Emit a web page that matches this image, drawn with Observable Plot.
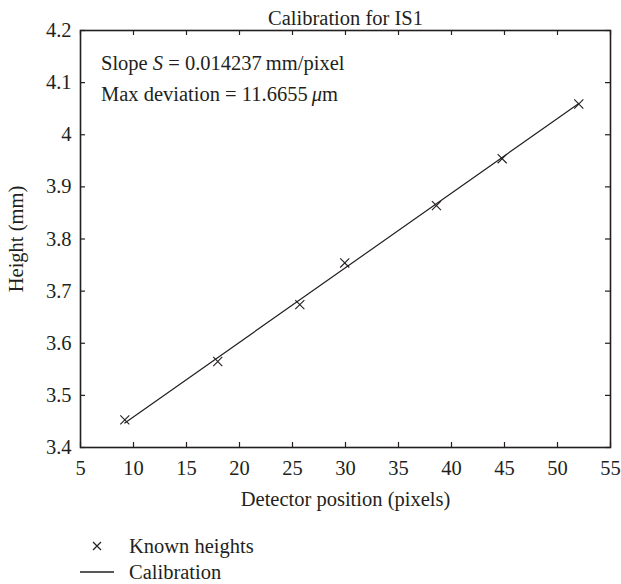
<!DOCTYPE html>
<html>
<head>
<meta charset="utf-8">
<script src="https://cdn.jsdelivr.net/npm/d3@7"></script>
<script src="https://cdn.jsdelivr.net/npm/@observablehq/plot@0.6"></script>
<style>
  html, body { margin: 0; padding: 0; background: #fff; }
  #wrap { position: relative; width: 621px; height: 584px; font-family: "Liberation Serif", "DejaVu Serif", serif; color: #231f20; }
  #annot { position: absolute; left: 101px; top: 48px; font-size: 20.5px; line-height: 31px; color: #231f20; }
  #legend { position: absolute; left: 80px; top: 533px; font-size: 20.5px; line-height: 26px; color: #231f20; }
  .lrow { display: flex; align-items: center; }
  .lsym { width: 34px; display: inline-flex; justify-content: center; margin-right: 15px; }
</style>
</head>
<body>
<div id="wrap">
  <div id="chart"></div>
  <div id="annot">
    <div>Slope <i>S</i> = 0.014237&#8201;mm/pixel</div>
    <div>Max deviation = 11.6655&#8201;<i>μ</i>m</div>
  </div>
  <div id="legend"></div>
</div>
<script>
// Known heights
const knownX = [9.18, 17.95, 25.69, 29.93, 38.58, 44.78, 52.01];
const knownY = [3.453, 3.565, 3.674, 3.754, 3.864, 3.954, 4.059];
// Calibration line endpoints
const calX = [9.18, 52.01];
const calY = [3.447, 4.060];
// Tick values and labels
const xTicks = [5, 10, 15, 20, 25, 30, 35, 40, 45, 50, 55];
const xTickLabels = ["5", "10", "15", "20", "25", "30", "35", "40", "45", "50", "55"];
const yTicks = [3.4, 3.5, 3.6, 3.7, 3.8, 3.9, 4.0, 4.1, 4.2];
const yTickLabels = ["3.4", "3.5", "3.6", "3.7", "3.8", "3.9", "4", "4.1", "4.2"];
const title = "Calibration for IS1";
const xLabel = "Detector position (pixels)";
const yLabel = "Height (mm)";
const legendLabels = ["Known heights", "Calibration"];

const known = knownX.map((x, i) => ({x, y: knownY[i]}));
const cal = calX.map((x, i) => ({x, y: calY[i]}));

const W = 621, H = 522;
const mL = 80, mR = 11, mT = 30, mB = 75;
const pw = W - mL - mR, ph = H - mT - mB;
const tl = 5;
const ink = "#231f20";
const fs = 20.5;

const chart = Plot.plot({
  width: W, height: H,
  marginLeft: mL, marginRight: mR, marginTop: mT, marginBottom: mB,
  style: {fontFamily: "'Liberation Serif', 'DejaVu Serif', serif", fontSize: fs + "px", color: ink, background: "white"},
  x: {domain: [5, 55]},
  y: {domain: [3.4, 4.2]},
  marks: [
    Plot.axisX({ticks: xTicks, tickFormat: d => xTickLabels[xTicks.indexOf(d)], tickSize: 0, tickPadding: 13, label: xLabel, labelAnchor: "center", labelArrow: "none", labelOffset: 58, fontSize: fs}),
    Plot.axisY({ticks: yTicks, tickFormat: d => yTickLabels[yTicks.findIndex(t => Math.abs(t - d) < 1e-9)], tickSize: 0, tickPadding: 9, label: yLabel, labelAnchor: "center", labelArrow: "none", labelOffset: 72, fontSize: fs}),
    Plot.tickX(xTicks, {x: d => d, insetTop: ph - tl, stroke: ink, strokeWidth: 1.2}),
    Plot.tickX(xTicks, {x: d => d, insetBottom: ph - tl, stroke: ink, strokeWidth: 1.2}),
    Plot.tickY(yTicks, {y: d => d, insetRight: pw - tl, stroke: ink, strokeWidth: 1.2}),
    Plot.tickY(yTicks, {y: d => d, insetLeft: pw - tl, stroke: ink, strokeWidth: 1.2}),
    Plot.frame({stroke: ink, strokeWidth: 1.6}),
    Plot.line(cal, {x: "x", y: "y", stroke: ink, strokeWidth: 1.2}),
    Plot.dot(known, {x: "x", y: "y", symbol: "times", r: 4.2, stroke: ink, strokeWidth: 1.1}),
    Plot.text([title], {text: d => d, frameAnchor: "top", dy: -20, fontSize: fs, fill: ink})
  ]
});
document.getElementById("chart").appendChild(chart);

const leg = document.getElementById("legend");
leg.innerHTML = `
  <div class="lrow"><span class="lsym"><svg width="12" height="12"><path d="M2,2L10,10M10,2L2,10" stroke="${ink}" stroke-width="1.2"/></svg></span>${legendLabels[0]}</div>
  <div class="lrow"><span class="lsym"><svg width="34" height="4"><line x1="0" y1="2" x2="34" y2="2" stroke="${ink}" stroke-width="1.3"/></svg></span>${legendLabels[1]}</div>`;
</script>
</body>
</html>
